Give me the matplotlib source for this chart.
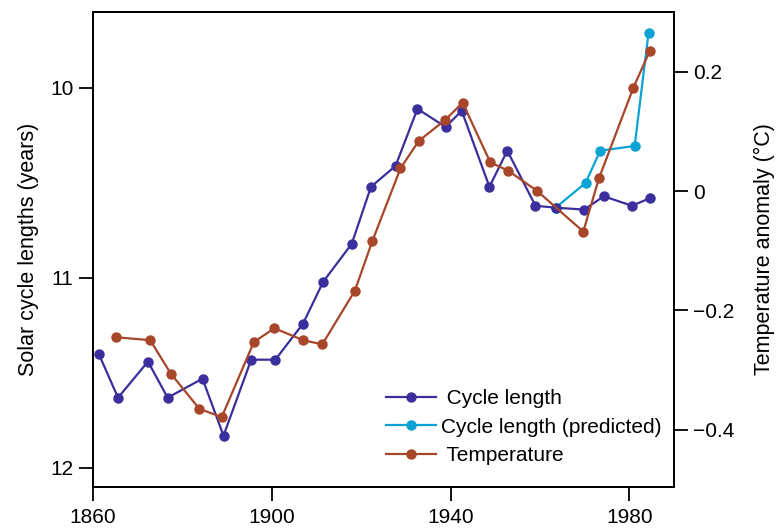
import matplotlib.pyplot as plt

plt.rcParams["font.family"] = ["Liberation Sans", "DejaVu Sans"]

# solar cycle length (left axis, inverted)
cycle_years = [1861.3, 1865.6, 1872.3, 1876.7, 1884.5, 1889.2, 1895.4, 1900.8,
               1907.0, 1911.5, 1917.9, 1922.2, 1927.7, 1932.6, 1938.9, 1942.5,
               1948.7, 1952.7, 1959.0, 1963.5, 1969.9, 1974.3, 1980.6, 1984.6]
cycle_len = [11.40, 11.63, 11.44, 11.63, 11.53, 11.83, 11.43, 11.43,
             11.24, 11.02, 10.82, 10.52, 10.41, 10.11, 10.205, 10.12,
             10.52, 10.33, 10.62, 10.63, 10.64, 10.57, 10.62, 10.58]

# predicted cycle length
pred_years = [1963.5, 1970.2, 1973.5, 1981.2, 1984.3]
pred_len = [10.63, 10.50, 10.33, 10.305, 9.71]

# temperature anomaly (right axis)
temp_years = [1865.1, 1872.8, 1877.4, 1883.8, 1888.8, 1896.0, 1900.6, 1907.0,
              1911.3, 1918.6, 1922.5, 1928.8, 1932.9, 1938.8, 1942.7, 1948.9,
              1952.9, 1959.4, 1969.7, 1973.2, 1980.9, 1984.6]
temp_anom = [-0.245, -0.250, -0.306, -0.365, -0.379, -0.253, -0.230, -0.250,
             -0.257, -0.167, -0.084, 0.038, 0.084, 0.119, 0.148, 0.048,
             0.034, 0.000, -0.068, 0.021, 0.173, 0.235]

BLUE = "#3a2f9c"
CYAN = "#0aa3d4"
RUST = "#a8462a"

fig = plt.figure(figsize=(7.79, 5.28), dpi=100)
ax = fig.add_axes([0.1194, 0.0777, 0.7458, 0.8996])
ax2 = ax.twinx()

l1, = ax.plot(cycle_years, cycle_len, "-o", color=BLUE, lw=1.6, ms=6.5,
              label=" Cycle length", zorder=3)
l2, = ax.plot(pred_years, pred_len, "-o", color=CYAN, lw=1.6, ms=6.5,
              label="Cycle length (predicted)", zorder=2)
l3, = ax2.plot(temp_years, temp_anom, "-o", color=RUST, lw=1.6, ms=6.5,
               label=" Temperature", zorder=3)

ax.set_xlim(1860, 1990)
ax.set_ylim(12.1, 9.6)
ax2.set_ylim(-0.496, 0.30)

ax.set_xticks([1860, 1900, 1940, 1980])
ax.set_yticks([10, 11, 12])
ax2.set_yticks([0.2, 0, -0.2, -0.4])
ax2.set_yticklabels(["0.2", "0", "\u22120.2", "\u22120.4"])

for a in (ax, ax2):
    a.tick_params(direction="out", length=10, width=1.3, labelsize=15, pad=4)
    for s in a.spines.values():
        s.set_linewidth(1.3)
ax.tick_params(axis="x", pad=5)

ax.set_ylabel("Solar cycle lengths (years)", fontsize=15.5, labelpad=8)
ax2.set_ylabel("Temperature anomaly (\u00b0C)", fontsize=15.5, labelpad=14)

ax.legend(handles=[l1, l2, l3], loc="lower right", frameon=False, fontsize=15,
          handlelength=2.4, handletextpad=0.25, labelspacing=0.45,
          borderaxespad=0.2, bbox_to_anchor=(1.0, 0.02))

fig.savefig("out.png", dpi=100)
